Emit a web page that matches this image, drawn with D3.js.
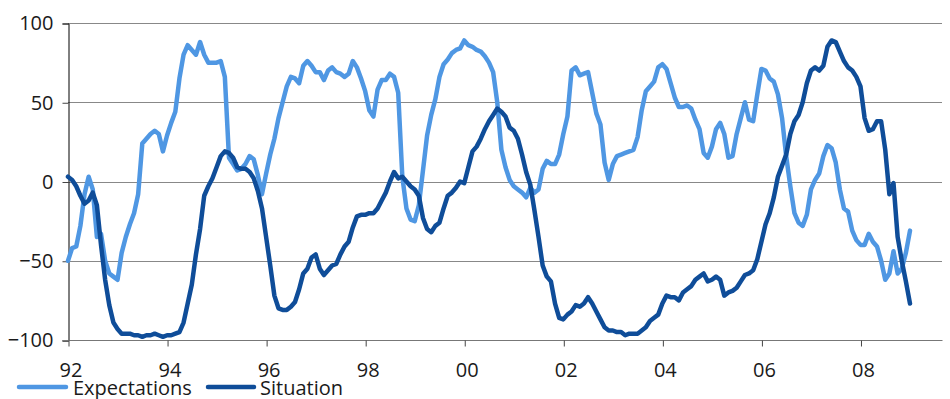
<!DOCTYPE html>
<html>
<head>
<meta charset="utf-8">
<script src="https://cdn.jsdelivr.net/npm/d3@7"></script>
<style>
  html, body { margin: 0; padding: 0; background: #fff; }
  svg { display: block; }
  text { font-family: "Open Sans", sans-serif; fill: #1a1a1a; }
</style>
</head>
<body>
<svg id="chart" width="950" height="399"></svg>
<script>
// Monthly data, Jan 1992 .. Jan 2009
const startYear = 1992;
const expectations = [
  -50,-42,-41,-28,-8,3,-5,-35,-33,-50,-58,-60,
  -62,-45,-35,-27,-20,-8,24,27,30,32,30,19,
  29,37,44,65,80,86,83,80,88,80,75,75,
  75,76,66,15,11,7,8,11,16,14,4,-8,
  5,17,27,40,50,60,66,65,62,73,76,73,
  69,69,64,70,72,69,68,66,68,76,72,65,
  57,45,41,58,64,64,68,66,56,3,-17,-24,
  -25,-15,7,29,42,52,66,74,77,81,83,84,
  89,86,85,83,82,79,75,69,50,20,9,1,
  -3,-5,-7,-10,-4,-7,-5,8,13,11,11,17,
  30,41,70,72,67,68,69,56,43,36,12,1,
  11,16,17,18,19,20,28,45,57,60,63,72,
  74,71,62,53,47,47,48,46,39,33,18,15,
  22,33,37,30,15,16,30,40,50,39,38,55,
  71,70,65,63,55,40,16,-3,-20,-26,-28,-21,
  -5,1,5,16,23,21,12,-5,-17,-19,-31,-37,
  -40,-40,-33,-38,-41,-50,-62,-58,-44,-58,-55,-45,
  -31
];
const situation = [
  3,1,-3,-9,-14,-12,-7,-15,-40,-62,-78,-89,
  -93,-96,-96,-96,-97,-97,-98,-97,-97,-96,-97,-98,
  -97,-97,-96,-95,-89,-77,-65,-46,-30,-9,-3,2,
  9,16,19,18,15,9,8,8,6,2,-6,-17,
  -35,-53,-72,-80,-81,-81,-79,-76,-68,-58,-55,-48,
  -46,-55,-59,-56,-53,-52,-46,-41,-38,-29,-22,-21,
  -21,-20,-20,-17,-12,-7,0,6,2,3,0,-3,
  -5,-9,-23,-30,-32,-28,-26,-17,-9,-7,-4,0,
  -1,9,19,22,27,33,38,42,46,44,41,34,
  32,27,17,6,-2,-18,-35,-53,-60,-63,-77,-86,
  -87,-84,-82,-78,-79,-77,-73,-77,-82,-87,-92,-94,
  -94,-95,-95,-97,-96,-96,-96,-94,-92,-88,-86,-84,
  -77,-72,-73,-73,-75,-70,-68,-66,-62,-60,-58,-63,
  -62,-60,-62,-72,-70,-69,-67,-63,-59,-58,-56,-49,
  -38,-27,-20,-10,3,10,17,30,38,42,50,62,
  70,72,70,73,85,89,88,82,76,72,70,66,
  60,40,32,33,38,38,20,-8,-1,-35,-50,-63,
  -77
];
const yTicks = [-100, -50, 0, 50, 100];
const xTickYears = [1992, 1994, 1996, 1998, 2000, 2002, 2004, 2006, 2008];
const xTickLabels = ["92", "94", "96", "98", "00", "02", "04", "06", "08"];
const seriesNames = ["Expectations", "Situation"];
const seriesColors = ["#4f97e3", "#0f4d99"];

const svg = d3.select("#chart");
const pLeft = 68, pRight = 942, pTop = 23, pBottom = 340;

const x = d3.scaleLinear().domain([1992, 1992 + (pRight - pLeft) / 49.53]).range([pLeft, pRight]);
const y = d3.scaleLinear().domain([-100, 100]).range([pBottom, pTop]);
const crisp = v => Math.round(v) + 0.5;

// gridlines
svg.append("g").selectAll("line").data(yTicks).join("line")
  .attr("x1", pLeft).attr("x2", pRight)
  .attr("y1", d => crisp(y(d))).attr("y2", d => crisp(y(d)))
  .attr("stroke", "#888").attr("stroke-width", 1);

// y axis
const yAxis = d3.axisLeft(y).tickValues(yTicks).tickSize(6).tickPadding(9)
  .tickFormat(d3.format("d"));
const gy = svg.append("g").attr("transform", `translate(${crisp(pLeft)},0.5)`).call(yAxis);
gy.select(".domain").attr("stroke", "#000");
gy.selectAll(".tick line").attr("stroke", "#444");
gy.selectAll("text").style("font-size", "20px").style("font-family", "'Open Sans', sans-serif")
  .attr("fill", "#1a1a1a");

// x axis
const xAxis = d3.axisBottom(x).tickValues(xTickYears).tickSize(6).tickPadding(16)
  .tickFormat((d, i) => xTickLabels[i]);
const gx = svg.append("g").attr("transform", `translate(0.5,${crisp(pBottom)})`).call(xAxis);
gx.select(".domain").attr("d", `M${pLeft - 6},0H${pRight}`).attr("stroke", "#777");
gx.selectAll(".tick line").attr("stroke", "#444");
gx.selectAll("text").style("font-size", "20px").style("font-family", "'Open Sans', sans-serif")
  .attr("fill", "#1a1a1a").attr("dx", "2");

// lines
const line = d3.line()
  .x((d, i) => x(startYear + i / 12))
  .y(d => y(d));

[expectations, situation].forEach((data, k) => {
  svg.append("path")
    .datum(data)
    .attr("d", line)
    .attr("fill", "none")
    .attr("stroke", seriesColors[k])
    .attr("stroke-width", 4.5)
    .attr("stroke-linejoin", "round")
    .attr("stroke-linecap", "round");
});

// legend
const legendItems = [
  { name: seriesNames[0], color: seriesColors[0], x1: 19, x2: 66, tx: 73 },
  { name: seriesNames[1], color: seriesColors[1], x1: 208, x2: 254, tx: 260 }
];
const lg = svg.append("g");
legendItems.forEach(it => {
  lg.append("line").attr("x1", it.x1).attr("x2", it.x2).attr("y1", 387).attr("y2", 387)
    .attr("stroke", it.color).attr("stroke-width", 4.5).attr("stroke-linecap", "round");
  lg.append("text").attr("x", it.tx).attr("y", 395).style("font-size", "20px").text(it.name);
});
</script>
</body>
</html>
